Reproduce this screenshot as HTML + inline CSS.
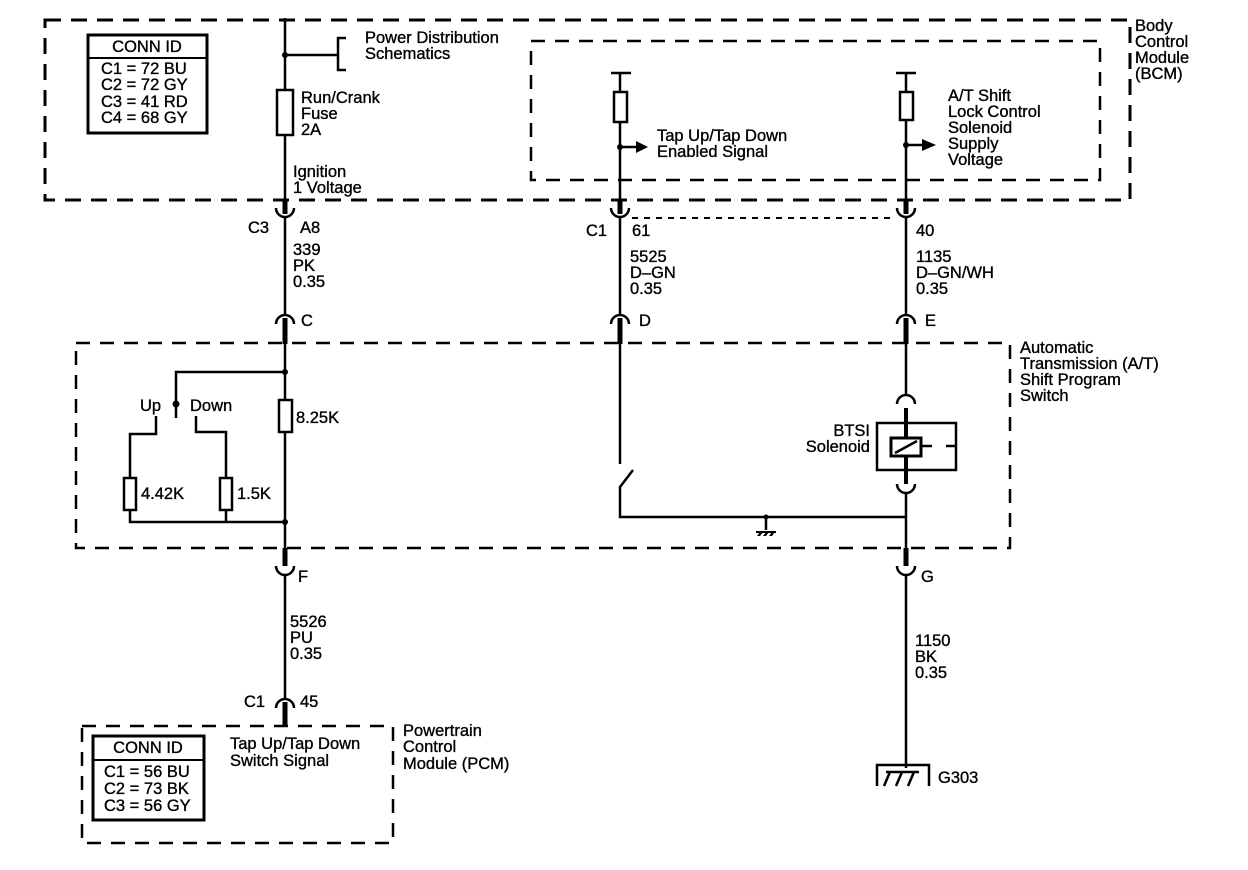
<!DOCTYPE html>
<html><head><meta charset="utf-8"><style>
html,body{margin:0;padding:0;background:#fff;}
svg{display:block;}
text{font-family:"Liberation Sans",Arial,sans-serif;font-size:16.5px;fill:#000;stroke:#000;stroke-width:0.35;}
</style></head><body>
<svg width="1248" height="870" viewBox="0 0 1248 870" xmlns="http://www.w3.org/2000/svg">
<g fill="none" stroke="#000">
<rect x="45" y="20" width="1085" height="180" stroke-width="3" stroke-dasharray="16,10"/>
<rect x="531" y="41" width="569" height="139" stroke-width="2.5" stroke-dasharray="14,10"/>
<rect x="76" y="343" width="934" height="205" stroke-width="2.5" stroke-dasharray="14,10"/>
<rect x="82" y="726" width="311" height="117" stroke-width="2.5" stroke-dasharray="14,10"/>
<line x1="632" y1="218" x2="896" y2="218" stroke-width="2" stroke-dasharray="6,6"/>

<rect x="88" y="35" width="119" height="98" stroke-width="3"/>
<line x1="88" y1="58" x2="207" y2="58" stroke-width="2"/>
<rect x="93" y="736" width="111" height="84" stroke-width="3"/>
<line x1="93" y1="760" x2="204" y2="760" stroke-width="2"/>

<g stroke-width="2.5">
<line x1="285" y1="18" x2="285" y2="90"/>
<line x1="285" y1="135" x2="285" y2="200"/>
<line x1="285" y1="55" x2="338" y2="55"/>
<polyline points="346,38 338,38 338,70 346,70"/>
<rect x="277" y="90" width="16" height="45" stroke-width="2.5"/>
<line x1="285" y1="200" x2="285" y2="214" stroke-width="5"/>
<path d="M276,208 A9,9 0 0 0 294,208"/>
<line x1="285" y1="217" x2="285" y2="314"/>
<path d="M276,324 A9,9 0 0 1 294,324"/>
<line x1="285" y1="318" x2="285" y2="344" stroke-width="5"/>
<line x1="285" y1="344" x2="285" y2="400"/>
<rect x="279" y="400" width="13" height="32"/>
<line x1="285" y1="432" x2="285" y2="548"/>
<polyline points="285,372 176,372 176,418"/>
<polyline points="156,416 156,434 130,434 130,478"/>
<rect x="124" y="478" width="12" height="32"/>
<polyline points="196,416 196,432 226,432 226,478"/>
<rect x="220" y="478" width="12" height="32"/>
<polyline points="130,510 130,522 285,522"/>
<line x1="226" y1="510" x2="226" y2="522"/>
<line x1="285" y1="548" x2="285" y2="566" stroke-width="5"/>
<path d="M276,566 A9,9 0 0 0 294,566"/>
<line x1="285" y1="575" x2="285" y2="700"/>
<path d="M276,708 A9,9 0 0 1 294,708"/>
<line x1="285" y1="702" x2="285" y2="726" stroke-width="5"/>

<line x1="611" y1="73" x2="631" y2="73"/>
<line x1="620" y1="73" x2="620" y2="92"/>
<rect x="614" y="92" width="13" height="30"/>
<line x1="620" y1="122" x2="620" y2="200"/>
<line x1="620" y1="147" x2="638" y2="147"/>
<line x1="620" y1="200" x2="620" y2="214" stroke-width="5"/>
<path d="M611,208 A9,9 0 0 0 629,208"/>
<line x1="620" y1="217" x2="620" y2="314"/>
<path d="M611,324 A9,9 0 0 1 629,324"/>
<line x1="620" y1="318" x2="620" y2="344" stroke-width="5"/>
<line x1="620" y1="344" x2="620" y2="464"/>
<polyline points="633,470 620,487 620,517 906,517"/>
<line x1="766" y1="517" x2="766" y2="530"/>
<line x1="756" y1="532" x2="776" y2="532" stroke-width="2"/>

<line x1="896" y1="73" x2="916" y2="73"/>
<line x1="906" y1="73" x2="906" y2="92"/>
<rect x="900" y="92" width="13" height="28"/>
<line x1="906" y1="120" x2="906" y2="200"/>
<line x1="906" y1="145" x2="924" y2="145"/>
<line x1="906" y1="200" x2="906" y2="214" stroke-width="5"/>
<path d="M897,208 A9,9 0 0 0 915,208"/>
<line x1="906" y1="217" x2="906" y2="314"/>
<path d="M897,324 A9,9 0 0 1 915,324"/>
<line x1="906" y1="318" x2="906" y2="344" stroke-width="5"/>
<line x1="906" y1="344" x2="906" y2="394"/>
<path d="M897,404 A9,9 0 0 1 915,404"/>
<line x1="906" y1="408" x2="906" y2="438" stroke-width="4"/>
<rect x="877" y="423" width="79" height="47"/>
<rect x="891" y="438" width="30" height="18" stroke-width="3"/>
<line x1="895" y1="453" x2="917" y2="441"/>
<line x1="921" y1="446" x2="932" y2="446"/>
<line x1="946" y1="446" x2="956" y2="446"/>
<line x1="906" y1="456" x2="906" y2="484" stroke-width="4"/>
<path d="M897,484 A9,9 0 0 0 915,484"/>
<line x1="906" y1="493" x2="906" y2="548"/>
<line x1="906" y1="548" x2="906" y2="566" stroke-width="5"/>
<path d="M897,566 A9,9 0 0 0 915,566"/>
<line x1="906" y1="575" x2="906" y2="768"/>
<polyline points="877,786 877,765 929,765 929,786"/>
<line x1="886" y1="772" x2="919" y2="772"/>
<line x1="890" y1="772" x2="884" y2="786"/><line x1="902" y1="772" x2="896" y2="786"/><line x1="914" y1="772" x2="908" y2="786"/>
</g>
</g>
<g fill="#000">
<circle cx="285" cy="55" r="3"/><circle cx="285" cy="372" r="3"/><circle cx="285" cy="522" r="3"/>
<circle cx="176" cy="404" r="3.5"/>
<circle cx="620" cy="147" r="3"/><circle cx="906" cy="145" r="3"/>
<polygon points="636,141 648,147 636,153"/><polygon points="922,139 936,145 922,151"/>
<circle cx="766" cy="517" r="2.5"/>
<path d="M757,536 l3,-4 h3 l-3,4 z M763,536 l3,-4 h3 l-3,4 z M769,536 l3,-4 h3 l-3,4 z"/>
</g>
<text x="147" y="52" text-anchor="middle">CONN ID</text>
<text x="101" y="74">C1 = 72 BU</text><text x="101" y="90">C2 = 72 GY</text>
<text x="101" y="107">C3 = 41 RD</text><text x="101" y="123">C4 = 68 GY</text>
<text x="365" y="43">Power Distribution</text><text x="365" y="59">Schematics</text>
<text x="301" y="103">Run/Crank</text><text x="301" y="119">Fuse</text><text x="301" y="135">2A</text>
<text x="293" y="177">Ignition</text><text x="293" y="193">1 Voltage</text>
<text x="1135" y="31">Body</text><text x="1135" y="47">Control</text><text x="1135" y="63">Module</text><text x="1135" y="79">(BCM)</text>
<text x="657" y="141">Tap Up/Tap Down</text><text x="657" y="157">Enabled Signal</text>
<text x="948" y="101">A/T Shift</text><text x="948" y="117">Lock Control</text><text x="948" y="133">Solenoid</text><text x="948" y="149">Supply</text><text x="948" y="165">Voltage</text>
<text x="248" y="233">C3</text><text x="300" y="233">A8</text>
<text x="586" y="236">C1</text><text x="632" y="236">61</text><text x="916" y="236">40</text>
<text x="293" y="255">339</text><text x="293" y="271">PK</text><text x="293" y="287">0.35</text>
<text x="630" y="262">5525</text><text x="630" y="278">D–GN</text><text x="630" y="294">0.35</text>
<text x="916" y="262">1135</text><text x="916" y="278">D–GN/WH</text><text x="916" y="294">0.35</text>
<text x="301" y="326">C</text><text x="639" y="326">D</text><text x="925" y="326">E</text>
<text x="1020" y="353">Automatic</text><text x="1020" y="369">Transmission (A/T)</text><text x="1020" y="385">Shift Program</text><text x="1020" y="401">Switch</text>
<text x="140" y="411">Up</text><text x="190" y="411">Down</text>
<text x="296" y="423">8.25K</text><text x="141" y="499">4.42K</text><text x="237" y="499">1.5K</text>
<text x="870" y="436" text-anchor="end">BTSI</text><text x="870" y="452" text-anchor="end">Solenoid</text>
<text x="298" y="582">F</text><text x="921" y="582">G</text>
<text x="290" y="627">5526</text><text x="290" y="643">PU</text><text x="290" y="659">0.35</text>
<text x="915" y="646">1150</text><text x="915" y="662">BK</text><text x="915" y="678">0.35</text>
<text x="244" y="707">C1</text><text x="300" y="707">45</text>
<text x="148" y="753" text-anchor="middle">CONN ID</text>
<text x="104" y="777">C1 = 56 BU</text><text x="104" y="794">C2 = 73 BK</text><text x="104" y="811">C3 = 56 GY</text>
<text x="230" y="749">Tap Up/Tap Down</text><text x="230" y="766">Switch Signal</text>
<text x="403" y="736">Powertrain</text><text x="403" y="752">Control</text><text x="403" y="769">Module (PCM)</text>
<text x="938" y="783">G303</text>
</svg>
</body></html>
